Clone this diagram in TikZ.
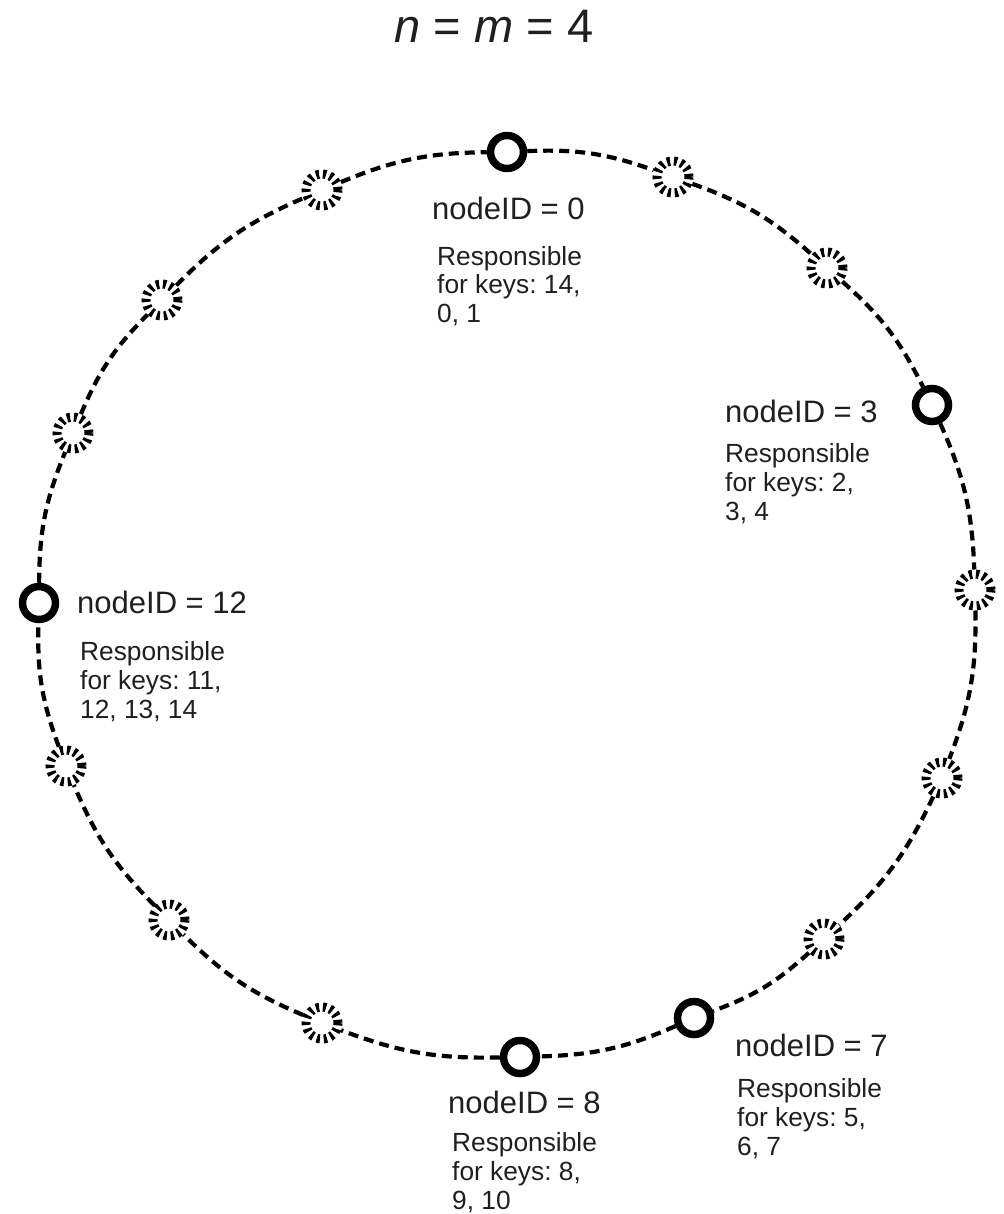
\documentclass[tikz,border=0pt]{standalone}
\usepackage{fontspec}
\setmainfont{Liberation Sans}
\frenchspacing
\begin{document}
\begin{tikzpicture}[x=1pt,y=-1pt,
  peer/.style={circle,draw=black,fill=white,line width=7.5pt,minimum size=33pt,inner sep=0pt},
  slot/.style={circle,draw=black,fill=white,line width=9pt,minimum size=32pt,inner sep=0pt,dash pattern=on 3.2pt off 3.8pt},
  ring/.style={line width=4.2pt,dash pattern=on 10pt off 6pt,bend left=11},
  idlabel/.style={anchor=base west,inner sep=0pt,text=black!88,font=\fontsize{31}{35}\selectfont},
  resp/.style={anchor=base west,inner sep=0pt,text=black!88,align=left,font=\fontsize{26.3}{29}\selectfont},
  title/.style={anchor=base,inner sep=0pt,text=black!88,font=\fontsize{47}{52}\selectfont}]
\useasboundingbox (0,0) rectangle (1003,1214);
\node[title] (t) at (494,43) {\textit{n} = \textit{m} = 4};
% ring positions
\node[peer] (n0) at (507,152) {};
\node[slot] (n1) at (673,177) {};
\node[slot] (n2) at (827,268) {};
\node[peer] (n3) at (932,405) {};
\node[slot] (n4) at (975,590) {};
\node[slot] (n5) at (942,778) {};
\node[slot] (n6) at (824,939) {};
\node[peer] (n7) at (694,1018) {};
\node[peer] (n8) at (520,1057) {};
\node[slot] (n9) at (322,1023) {};
\node[slot] (n10) at (169,920) {};
\node[slot] (n11) at (66,766) {};
\node[peer] (n12) at (39,603) {};
\node[slot] (n13) at (73,433) {};
\node[slot] (n14) at (162,300) {};
\node[slot] (n15) at (322,190) {};
% ring connectors
\draw[ring] (n0) to (n1);
\draw[ring] (n1) to (n2);
\draw[ring] (n2) to (n3);
\draw[ring] (n3) to (n4);
\draw[ring] (n4) to (n5);
\draw[ring] (n5) to (n6);
\draw[ring] (n6) to (n7);
\draw[ring] (n7) to (n8);
\draw[ring] (n8) to (n9);
\draw[ring] (n9) to (n10);
\draw[ring] (n10) to (n11);
\draw[ring] (n11) to (n12);
\draw[ring] (n12) to (n13);
\draw[ring] (n13) to (n14);
\draw[ring] (n14) to (n15);
\draw[ring] (n15) to (n0);
% labels (resp anchors sit on the baseline of the last line)
\node[idlabel] (l0) at (432,220) {nodeID = 0};
\node[resp] (r0) at (437,323) {Responsible\\for keys: 14,\\0, 1};
\node[idlabel] (l3) at (725,422) {nodeID = 3};
\node[resp] (r3) at (725,520) {Responsible\\for keys: 2,\\3, 4};
\node[idlabel] (l12) at (77,613) {nodeID = 12};
\node[resp] (r12) at (80,718) {Responsible\\for keys: 11,\\12, 13, 14};
\node[idlabel] (l8) at (448,1113) {nodeID = 8};
\node[resp] (r8) at (452,1209) {Responsible\\for keys: 8,\\9, 10};
\node[idlabel] (l7) at (735,1056) {nodeID = 7};
\node[resp] (r7) at (737,1155) {Responsible\\for keys: 5,\\6, 7};
\end{tikzpicture}
\end{document}
